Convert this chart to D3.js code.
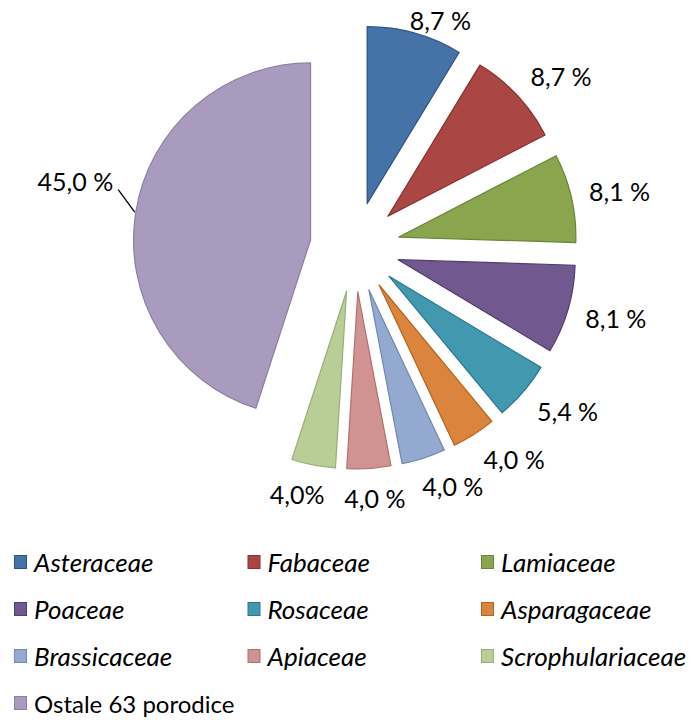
<!DOCTYPE html>
<html>
<head>
<meta charset="utf-8">
<script src="https://cdn.jsdelivr.net/npm/d3@7"></script>
<style>
  body { margin: 0; background: #fff; }
  text { font-family: Lato, "Open Sans", sans-serif; fill: #000; }
</style>
</head>
<body>
<svg id="thesvg" width="690" height="720"></svg>
<script>
'use strict';

// share of plant families (%)
let families = ["Asteraceae", "Fabaceae", "Lamiaceae", "Poaceae", "Rosaceae",
                "Asparagaceae", "Brassicaceae", "Apiaceae", "Scrophulariaceae",
                "Ostale 63 porodice"],
    values = [8.7, 8.7, 8.1, 8.1, 5.4, 4.0, 4.0, 4.0, 4.0, 45.0],
    labels = ["8,7 %", "8,7 %", "8,1 %", "8,1 %", "5,4 %", "4,0 %", "4,0 %", "4,0 %", "4,0%", "45,0 %"],
    italic = [true, true, true, true, true, true, true, true, true, false];

let fills = ["#4572a7", "#aa4643", "#89a54e", "#71588f", "#4198af",
             "#db843d", "#93a9cf", "#d19392", "#b9cd96", "#a99bbd"],
    strokes = ["#2f5483", "#87302d", "#6b8438", "#523e6d", "#2a7890",
               "#b5641f", "#7188b0", "#b07170", "#9aae78", "#8c7ea2"];

var svg = d3.select("#thesvg"),
    cx = 355, cy = 247,
    radius = 177,
    explode = 45, // distance every slice is pulled out
    labelR = 240;

var data = families.map(function(f, i) { return {name: f, value: values[i], i: i}; });

var pie = d3.pie().sort(null).value(function(d) { return d.value; }),
    arc = d3.arc().innerRadius(0).outerRadius(radius);

var arcs = pie(data);
var biggest = d3.max(values);

var g = svg.append("g").attr("transform", "translate(" + cx + "," + cy + ")");

function mid(d) { return (d.startAngle + d.endAngle) / 2; }

g.selectAll(".slice")
    .data(arcs)
  .enter().append("path")
    .attr("class", "slice")
    .attr("transform", function(d) {
      let a = mid(d);
      return "translate(" + (explode * Math.sin(a)) + "," + (-explode * Math.cos(a)) + ")";
    })
    .attr("d", arc)
    .attr("fill", function(d) { return fills[d.data.i]; })
    .attr("stroke", function(d) { return strokes[d.data.i]; })
    .attr("stroke-width", 1.2)
    .attr("stroke-linejoin", "round");

// data labels, placed just outside the end of each slice
arcs.forEach(function(d) {
  let a = mid(d),
      r = labelR,
      lead = d.data.value === biggest;
  if (lead) { a += 0.1; r = 250; }
  let px = r * Math.sin(a), py = -r * Math.cos(a);
  let t = g.append("text")
      .attr("text-anchor", "middle")
      .attr("dominant-baseline", "central")
      .style("font-size", "25px")
      .text(labels[d.data.i]);
  let w = t.node().getComputedTextLength(), h = 22;
  let lx = px + Math.max(-1, Math.min(1, 2.5 * Math.sin(a))) * w / 2,
      ly = py - Math.cos(a) * h / 2;
  ly = Math.max(ly, h / 2 + 9 - cy); // keep inside the chart area
  t.attr("x", lx).attr("y", ly);
  if (lead) {
    let b = mid(d), rr = explode + radius + 1;
    g.append("line")
        .attr("x1", rr * Math.sin(b)).attr("y1", -rr * Math.cos(b))
        .attr("x2", lx + w / 2 + 5).attr("y2", ly + 9)
        .attr("stroke", "#000")
        .attr("stroke-width", 1.3);
  }
});

// legend, three columns
let colX = d3.scalePoint().domain([0, 1, 2]).range([14, 481]),
    rowY = d3.scaleLinear().domain([0, 3]).range([562, 703]),
    box = 13;

var legend = svg.selectAll(".legend")
    .data(data)
  .enter().append("g")
    .attr("class", "legend")
    .attr("transform", function(d, i) {
      return "translate(" + colX(i % 3) + "," + rowY(Math.floor(i / 3)) + ")";
    });

legend.append("rect")
    .attr("x", 0.5).attr("y", -box / 2)
    .attr("width", box - 1).attr("height", box)
    .attr("fill", function(d) { return fills[d.i]; })
    .attr("stroke", function(d) { return strokes[d.i]; });

legend.append("text")
    .attr("x", 20)
    .attr("y", 0)
    .attr("dominant-baseline", "central")
    .style("font-size", function(d) { return italic[d.i] ? "26px" : "24px"; })
    .style("font-style", function(d) { return italic[d.i] ? "italic" : "normal"; })
    .text(function(d) { return d.name; });
</script>
</body>
</html>
